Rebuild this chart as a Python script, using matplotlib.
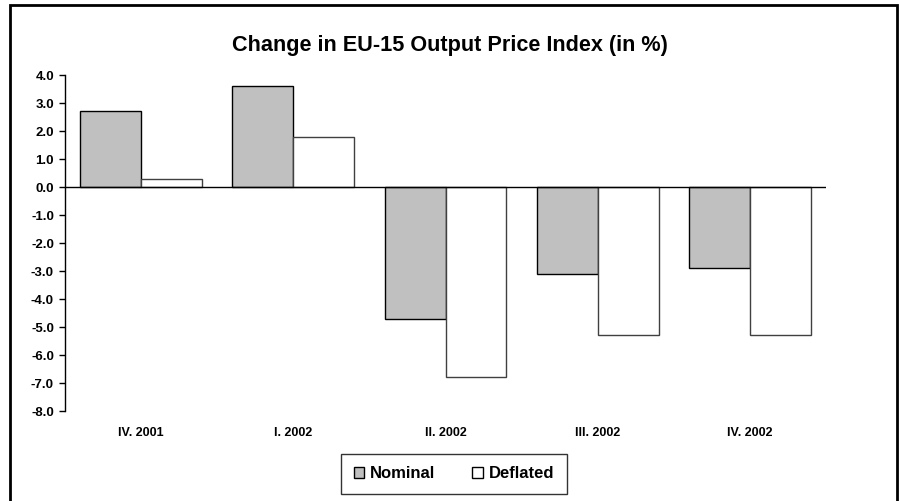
import matplotlib
matplotlib.use('Agg')

import matplotlib.pyplot as plt
import matplotlib.patches as mpatches
import numpy as np

# ── Data ──────────────────────────────────────────────────────────────────────
quarters = ["IV. 2001", "I. 2002", "II. 2002", "III. 2002", "IV. 2002"]
nominal = [2.7, 3.6, -4.7, -3.1, -2.9]
deflated = [0.3, 1.8, -6.8, -5.3, -5.3]
y_ticks = [4.0, 3.0, 2.0, 1.0, 0.0, -1.0, -2.0, -3.0, -4.0, -5.0, -6.0, -7.0, -8.0]

plt.rcParams['font.family'] = ['Liberation Sans', 'DejaVu Sans']
plt.rcParams['font.weight'] = 'bold'

fig = plt.figure(figsize=(8.99, 5.01), dpi=100)
fig.patch.set_facecolor("white")

# outer chart frame (bottom edge falls outside the picture)
fig.patches.append(mpatches.Rectangle(
    (10 / 899, -0.05), 887 / 899, 1.05 - 5 / 501,
    transform=fig.transFigure, fill=False, edgecolor="black", linewidth=2))

ax = fig.add_axes([65 / 899, 1 - 411 / 501, (826 - 65) / 899, (411 - 75) / 501])

x = np.arange(len(quarters))
w = 0.4
ax.bar(x - w / 2, nominal, w, color="#c0c0c0", edgecolor="black", linewidth=1.0)
ax.bar(x + w / 2, deflated, w, color="white", edgecolor="#404040", linewidth=1.0)

ax.axhline(0, color="black", linewidth=1.0)
ax.set_xlim(-0.5, len(quarters) - 0.5)
ax.set_ylim(-8, 4)

ax.set_yticks(y_ticks)
ax.set_yticklabels([f"{v:.1f}" for v in y_ticks], fontsize=9.5, fontweight="bold")
ax.tick_params(axis="y", direction="out", length=4, width=1, pad=4)

ax.set_xticks(x)
ax.set_xticklabels(quarters, fontsize=9, fontweight="bold")
ax.tick_params(axis="x", length=0, pad=11.5)

for s in ["top", "right", "bottom"]:
    ax.spines[s].set_visible(False)
ax.spines["left"].set_linewidth(1)

fig.text(0.5, 1 - 45 / 501, "Change in EU-15 Output Price Index (in %)",
         ha="center", va="center", fontsize=15.6, fontweight="bold")

legend_elements = [
    mpatches.Patch(facecolor="#c0c0c0", edgecolor="black", label="Nominal"),
    mpatches.Patch(facecolor="white", edgecolor="black", label="Deflated"),
]
leg = fig.legend(handles=legend_elements, loc="center",
                 bbox_to_anchor=(454 / 899, 1 - 473.5 / 501), ncol=2,
                 prop={"size": 12, "weight": "bold"}, frameon=True, fancybox=False,
                 edgecolor="black", handlelength=0.65, handleheight=0.65,
                 handletextpad=0.35, columnspacing=2.2, borderpad=0.75,
                 borderaxespad=0)
leg.get_frame().set_linewidth(1)

fig.savefig("out.png", dpi=100)
